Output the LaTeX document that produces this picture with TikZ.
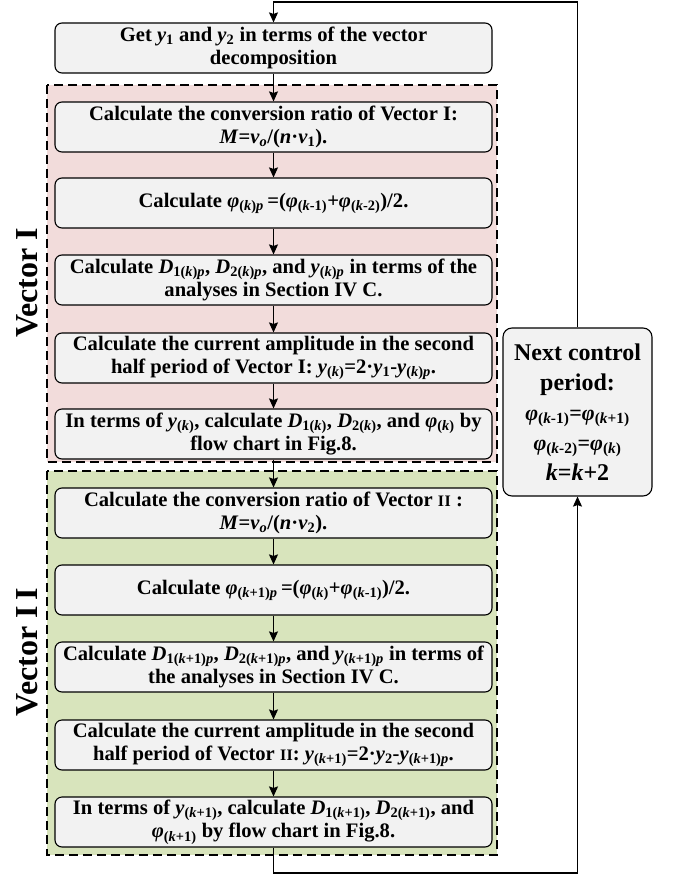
\documentclass[tikz,border=0pt]{standalone}
\usepackage{fontspec}
\setmainfont{Liberation Serif}
\usepackage{tikz}
\usetikzlibrary{positioning, arrows.meta, calc}
\definecolor{boxgray}{RGB}{242,242,242}
\definecolor{vecred}{RGB}{242,220,219}
\definecolor{vecgreen}{RGB}{216,228,188}
\newcommand{\iv}[1]{\textit{#1}}
\newcommand{\sbs}[1]{\textsubscript{#1}}
\newcommand{\romII}{{\fontsize{16}{16}\selectfont I\kern0.5pt I}}
\newcommand{\eqfont}{\fontsize{22}{27}\selectfont}

\begin{document}
\begin{tikzpicture}[x=1pt, y=-1pt,
    stepbox/.style={draw, line width=1.1pt, rounded corners=7pt, fill=boxgray,
        minimum width=437pt, minimum height=50pt, inner sep=2pt, align=center,
        font=\fontsize{20.6}{23.5}\selectfont\bfseries},
    nextbox/.style={draw, line width=1.1pt, rounded corners=9pt, fill=boxgray,
        minimum width=149pt, minimum height=168pt, inner sep=2pt, align=center,
        font=\fontsize{24}{30}\selectfont\bfseries},
    region/.style={line width=1.2pt, dash pattern=on 9pt off 5pt},
    veclabel/.style={rotate=90, font=\fontsize{32}{32}\selectfont\bfseries},
    flow/.style={-{Stealth[length=10pt, width=9pt, inset=1.5pt]}, line width=1.2pt}]
    \useasboundingbox (0,0) rectangle (673,874);

    % Zones des deux vecteurs
    \draw[region, fill=vecred] (47,85) rectangle (497,462);
    \draw[region, fill=vecgreen] (47,471) rectangle (497,855);
    \node[veclabel] (vecI) at (27,283) {Vector I};
    \node[veclabel] (vecII) at (27,652) {Vector I\kern6pt I};

    % Etapes
    \node[stepbox] (top) at (273.5,48) {Get \iv{y}\sbs{1} and \iv{y}\sbs{2} in terms of the vector\\decomposition};
    \node[stepbox] (b1) at (273.5,127) {Calculate the conversion ratio of Vector I:\\\iv{M}=\iv{v}\sbs{\iv{o}}/(\iv{n}·\iv{v}\sbs{1}).};
    \node[stepbox] (b2) at (273.5,203) {Calculate \iv{φ}\sbs{(\iv{k})\iv{p}}\,=(\iv{φ}\sbs{(\iv{k}-1)}+\iv{φ}\sbs{(\iv{k}-2)})/2.};
    \node[stepbox] (b3) at (273.5,280) {Calculate \iv{D}\sbs{1(\iv{k})\iv{p}}, \iv{D}\sbs{2(\iv{k})\iv{p}}, and \iv{y}\sbs{(\iv{k})\iv{p}} in terms of the\\analyses in Section IV C.};
    \node[stepbox] (b4) at (273.5,358) {Calculate the current amplitude in the second\\half period of Vector I: \iv{y}\sbs{(\iv{k})}=2·\iv{y}\sbs{1}-\iv{y}\sbs{(\iv{k})\iv{p}}.};
    \node[stepbox] (b5) at (273.5,434) {In terms of \iv{y}\sbs{(\iv{k})}, calculate \iv{D}\sbs{1(\iv{k})}, \iv{D}\sbs{2(\iv{k})}, and \iv{φ}\sbs{(\iv{k})} by\\flow chart in Fig.8.};
    \node[stepbox] (b6) at (273.5,513) {Calculate the conversion ratio of Vector \romII\ :\\\iv{M}=\iv{v}\sbs{\iv{o}}/(\iv{n}·\iv{v}\sbs{2}).};
    \node[stepbox] (b7) at (273.5,590) {Calculate \iv{φ}\sbs{(\iv{k}+1)\iv{p}}\,=(\iv{φ}\sbs{(\iv{k})}+\iv{φ}\sbs{(\iv{k}-1)})/2.};
    \node[stepbox] (b8) at (273.5,667) {Calculate \iv{D}\sbs{1(\iv{k}+1)\iv{p}}, \iv{D}\sbs{2(\iv{k}+1)\iv{p}}, and \iv{y}\sbs{(\iv{k}+1)\iv{p}} in terms of\\the analyses in Section IV C.};
    \node[stepbox] (b9) at (273.5,745) {Calculate the current amplitude in the second\\half period of Vector \romII: \iv{y}\sbs{(\iv{k}+1)}=2·\iv{y}\sbs{2}-\iv{y}\sbs{(\iv{k}+1)\iv{p}}.};
    \node[stepbox] (b10) at (273.5,822) {In terms of \iv{y}\sbs{(\iv{k}+1)}, calculate \iv{D}\sbs{1(\iv{k}+1)}, \iv{D}\sbs{2(\iv{k}+1)}, and\\\iv{φ}\sbs{(\iv{k}+1)} by flow chart in Fig.8.};

    % Periode suivante
    \node[nextbox] (next) at (577.5,412) {Next control\\period:\\{\eqfont\iv{φ}\sbs{(\iv{k}-1)}=\iv{φ}\sbs{(\iv{k}+1)}}\\{\eqfont\iv{φ}\sbs{(\iv{k}-2)}=\iv{φ}\sbs{(\iv{k})}}\\\iv{k}=\iv{k}+2};

    % Fleches
    \foreach \a/\b in {top/b1, b1/b2, b2/b3, b3/b4, b4/b5, b5/b6, b6/b7, b7/b8, b8/b9, b9/b10}
        \draw[flow] (\a.south) -- (\b.north);
    \coordinate (botline) at (273.5,873);
    \coordinate (topline) at (273.5,2);
    \draw[flow] (b10.south) -- (botline) -| (next.south);
    \draw[flow] (next.north) |- (topline) -- (top.north);
\end{tikzpicture}
\end{document}
